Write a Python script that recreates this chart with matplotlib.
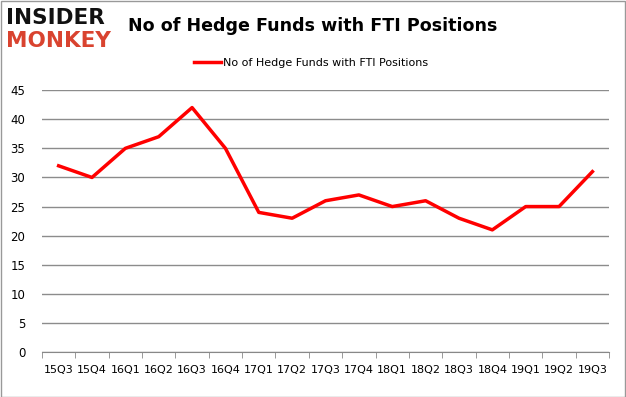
import matplotlib.pyplot as plt
from matplotlib.patches import Rectangle

quarters = ["15Q3", "15Q4", "16Q1", "16Q2", "16Q3", "16Q4", "17Q1", "17Q2", "17Q3",
            "17Q4", "18Q1", "18Q2", "18Q3", "18Q4", "19Q1", "19Q2", "19Q3"]
funds = [32, 30, 35, 37, 42, 35, 24, 23, 26, 27, 25, 26, 23, 21, 25, 25, 31]
yticks = [0, 5, 10, 15, 20, 25, 30, 35, 40, 45]

fig = plt.figure(figsize=(6.26, 3.97), dpi=100)
ax = fig.add_axes([0.067, 0.113, 0.906, 0.66])

x = list(range(len(quarters)))
ax.plot(x, funds, color="#ff0000", linewidth=2.5, label="No of Hedge Funds with FTI Positions")

ax.set_xlim(-0.5, len(quarters) - 0.5)
ax.set_ylim(0, 45)
ax.set_yticks(yticks)
ax.set_xticks(x)
ax.set_xticklabels(quarters)
ax.set_xticks([i - 0.5 for i in range(len(quarters) + 1)], minor=True)
ax.tick_params(axis="x", which="major", length=0, labelsize=8, pad=9)
ax.tick_params(axis="x", which="minor", length=4, color="#888888")
ax.tick_params(axis="y", length=0, labelsize=8.5, pad=12)
ax.grid(axis="y", color="#8c8c8c", linewidth=1)
ax.set_axisbelow(True)
for side in ["top", "right", "left"]:
    ax.spines[side].set_visible(False)
ax.spines["bottom"].set_color("#888888")

fig.text(0.499, 0.935, "No of Hedge Funds with FTI Positions", ha="center", va="center",
         fontsize=12.6, fontweight="bold")
ax.legend(loc="center", bbox_to_anchor=(0.475, 1.105), frameon=False, fontsize=8,
          handlelength=2.4, handletextpad=0.2)

fig.text(0.01, 0.955, "INSIDER", ha="left", va="center", fontsize=15.5,
         fontweight="heavy", color="#111111")
fig.text(0.01, 0.897, "MONKEY", ha="left", va="center", fontsize=15.5,
         fontweight="heavy", color="#d9432f")

fig.patches.append(Rectangle((0.001, 0.001), 0.997, 0.997, transform=fig.transFigure,
                             fill=False, edgecolor="#999999", linewidth=1))

fig.savefig("out.png", dpi=100)
